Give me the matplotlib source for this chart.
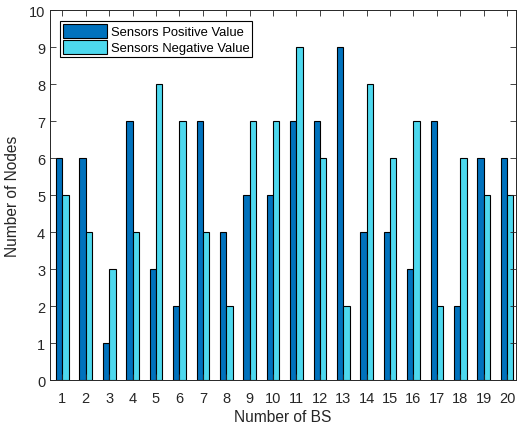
import numpy as np
import matplotlib
matplotlib.use("Agg")
import matplotlib.pyplot as plt

plt.rcParams['font.family'] = ['Liberation Sans', 'DejaVu Sans']

bs = list(range(1, 21))
positive = [6, 6, 1, 7, 3, 2, 7, 4, 5, 5, 7, 7, 9, 4, 4, 3, 7, 2, 6, 6]
negative = [5, 4, 3, 4, 8, 7, 4, 2, 7, 7, 9, 6, 2, 8, 6, 7, 2, 6, 5, 5]

fig = plt.figure(figsize=(5.17, 4.27), dpi=100)
ax = fig.add_axes([0.0967, 0.1077, 0.9013, 0.8665])

x = np.array(bs)
w = 0.27
ax.bar(x - w / 2, positive, w, color='#0072BD', edgecolor='black', linewidth=0.8,
       label='Sensors Positive Value')
ax.bar(x + w / 2, negative, w, color='#4DD8EE', edgecolor='black', linewidth=0.8,
       label='Sensors Negative Value')

ax.set_xlim(0.47, 20.38)
ax.set_ylim(0, 10)
ax.set_xticks(bs)
ax.set_yticks(range(0, 11))
ax.tick_params(direction='in', top=True, right=True, length=4, labelsize=10.5,
               color='#262626', width=0.6, labelcolor='#262626')
ax.tick_params(axis='x', pad=8)
for s in ax.spines.values():
    s.set_color('#262626')
    s.set_linewidth(0.7)
ax.set_xlabel('Number of BS', fontsize=11.2, color='#262626', labelpad=3)
ax.set_ylabel('Number of Nodes', fontsize=11.2, color='#262626', labelpad=6)

leg = ax.legend(loc='upper left', fontsize=9.4, fancybox=False, framealpha=1,
                edgecolor='black', handlelength=3.4, handleheight=1.3,
                borderpad=0.2, labelspacing=0.1, handletextpad=0.25,
                borderaxespad=0, bbox_to_anchor=(0.022, 0.97))
leg.get_frame().set_linewidth(0.8)

fig.savefig('out.png', dpi=100)
